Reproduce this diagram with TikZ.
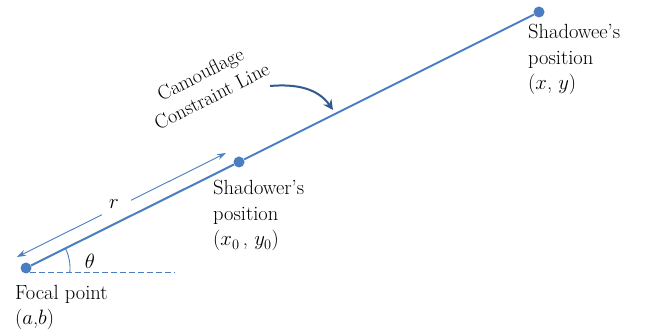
\documentclass[tikz,border=0pt]{standalone}
\usetikzlibrary{arrows.meta}
\definecolor{lblue}{RGB}{74,126,193}
\definecolor{dblue}{RGB}{50,90,140}
\begin{document}
\begin{tikzpicture}[x=1pt,y=1pt,
  dot/.style={circle,fill=lblue,inner sep=0pt,minimum size=11pt},
  lbl/.style={anchor=base west,inner sep=0pt,font=\fontsize{20.5}{26}\selectfont}]
\useasboundingbox (0,0) rectangle (658,336);
\node[dot] (focal) at (26,68) {};
\node[dot] (shadower) at (239,174) {};
\node[dot] (shadowee) at (539,324) {};
\draw[lblue,line width=2pt] (focal) -- (shadower) -- (shadowee);
% dashed horizontal
\coordinate (dstart) at (30,63.5);
\coordinate (dend) at (175,63.5);
\draw[lblue,line width=0.9pt,dash pattern=on 6pt off 3pt] (dstart) -- (dend);
% angle arc
\draw[lblue,line width=0.9pt] (focal.center) ++(-6:44) arc[start angle=-6,end angle=26.5,radius=44];
\node[lbl,anchor=base] (theta) at (90,67) {$\theta$};
% r arrow
\coordinate (ra) at (17,79);
\coordinate (g1) at (102,121.3);
\coordinate (g2) at (131,135.7);
\coordinate (rb) at (226,183);
\draw[lblue,line width=0.9pt,-{Stealth[length=9pt,width=6pt]}] (g1) -- (ra);
\draw[lblue,line width=0.9pt,-{Stealth[length=9pt,width=6pt]}] (g2) -- (rb);
\node[lbl,anchor=base] (r) at (114,127) {$r$};
% labels
\node[lbl] (f1) at (15,36) {Focal point};
\node[lbl] (f2) at (15,11) {($a$,$b$)};
\node[lbl] (s1) at (213,141) {Shadower’s};
\node[lbl] (s2) at (213,115) {position};
\node[lbl] (s3) at (213,90) {($x_0$\,, $y_0$)};
\node[lbl] (e1) at (528,297) {Shadowee’s};
\node[lbl] (e2) at (528,271) {position};
\node[lbl] (e3) at (528,246) {($x$, $y$)};
% camouflage label
\node[inner sep=0pt,font=\fontsize{20}{25}\selectfont,align=center,rotate=27] (cam) at (206,251) {Camouflage\\Constraint Line};
\coordinate (cstart) at (270,250);
\coordinate (cend) at (333,226);
\draw[dblue,line width=2pt,-{Stealth[length=10pt,width=10pt]}] (cstart) to[out=5,in=125] (cend);
\end{tikzpicture}
\end{document}
